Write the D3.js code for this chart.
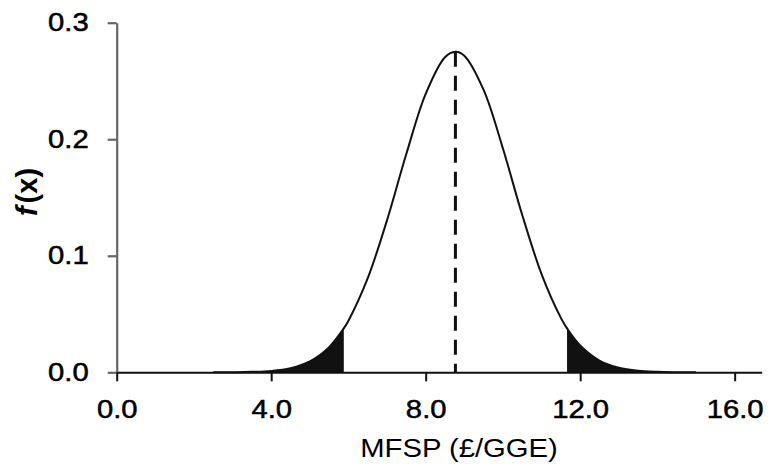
<!DOCTYPE html>
<html>
<head>
<meta charset="utf-8">
<script src="https://cdn.jsdelivr.net/npm/d3@7"></script>
<style>
  body { margin: 0; background: #fff; }
  text { font-family: "Liberation Sans", Arial, Helvetica, sans-serif; fill: #000; }
</style>
</head>
<body>
<div id="viz"></div>
<script>
// values (MFSP in £/GGE, density)
let xs = [2.5, 3.0, 3.5, 4.0, 4.5, 5.0, 5.5, 5.88, 6.0, 6.5, 7.0, 7.5, 8.0, 8.5, 8.77,
          9.0, 9.5, 10.0, 10.5, 11.0, 11.5, 11.66, 12.0, 12.5, 13.0, 13.5, 14.0, 14.5, 15.0];
let fx = [0.0000, 0.0001, 0.0004, 0.0012, 0.0036, 0.0094, 0.0216, 0.0377, 0.0443, 0.0808,
          0.1306, 0.1875, 0.2389, 0.2704, 0.2751, 0.2717, 0.2423, 0.1920, 0.1350, 0.0843,
          0.0467, 0.0377, 0.0230, 0.0101, 0.0039, 0.0013, 0.0004, 0.0001, 0.0000];

let mean = 8.77;
let lowCut = 5.88;
let highCut = 11.66;

let xTicks = [0, 4, 8, 12, 16];
let yTicks = [0, 0.1, 0.2, 0.3];

let data = xs.map((x, i) => ({x: x, y: fx[i]}));

let dimensions = {
    width: 773,
    height: 473,
    margins: {top: 22.7, right: 11.3, bottom: 100.7, left: 116.7}
};
dimensions.boundedWidth = dimensions.width - dimensions.margins.left - dimensions.margins.right;
dimensions.boundedHeight = dimensions.height - dimensions.margins.top - dimensions.margins.bottom;

// the original figure is a little stretched sideways, so the text is too
let stretch = 1.17;

const viz = d3.select('#viz').append('svg')
    .attr('width', dimensions.width)
    .attr('height', dimensions.height);

const bounds = viz.append('g')
    .attr('transform', `translate(${dimensions.margins.left},${dimensions.margins.top})`);

const xScale = d3.scaleLinear()
    .domain([0, 16.7])
    .range([0, dimensions.boundedWidth]);

const yScale = d3.scaleLinear()
    .domain([0, 0.3])
    .range([dimensions.boundedHeight, 0]);

// shaded tails
const area = d3.area()
    .x(d => xScale(d.x))
    .y0(yScale(0))
    .y1(d => yScale(d.y))
    .curve(d3.curveCatmullRom);

bounds.append('path')
    .datum(data.filter(d => d.x <= lowCut))
    .attr('d', area)
    .attr('fill', '#111');

bounds.append('path')
    .datum(data.filter(d => d.x >= highCut))
    .attr('d', area)
    .attr('fill', '#111');

// density curve
const line = d3.line()
    .x(d => xScale(d.x))
    .y(d => yScale(d.y))
    .curve(d3.curveCatmullRom);

bounds.append('path')
    .datum(data)
    .attr('d', line)
    .attr('fill', 'none')
    .attr('stroke', '#111')
    .attr('stroke-width', 2);

// dashed line at the mean
let peak = data.find(d => d.x === mean);
bounds.append('line')
    .attr('x1', xScale(mean))
    .attr('x2', xScale(mean))
    .attr('y1', yScale(peak.y))
    .attr('y2', yScale(0))
    .attr('stroke', '#111')
    .attr('stroke-width', 3)
    .attr('stroke-dasharray', '15,9');

// axes
const yAxis = bounds.append('g')
    .call(d3.axisLeft(yScale)
        .tickValues(yTicks)
        .tickFormat(d3.format('.1f'))
        .tickSize(9)
        .tickSizeOuter(0)
        .tickPadding(19));

yAxis.select('.domain').attr('stroke', '#666').attr('stroke-width', 2.2);
yAxis.selectAll('.tick line').attr('stroke', '#666').attr('stroke-width', 2.2);
yAxis.selectAll('.tick text')
    .attr('font-size', 25)
    .attr('stroke', '#000')
    .attr('stroke-width', 0.5)
    .attr('x', -28 / stretch)
    .attr('transform', `scale(${stretch},1)`);

const xAxis = bounds.append('g')
    .attr('transform', `translate(0,${dimensions.boundedHeight})`)
    .call(d3.axisBottom(xScale)
        .tickValues(xTicks)
        .tickFormat(d3.format('.1f'))
        .tickSize(9)
        .tickSizeOuter(0)
        .tickPadding(19));

xAxis.select('.domain').attr('stroke', '#111').attr('stroke-width', 2);
xAxis.selectAll('.tick line').attr('stroke', '#111').attr('stroke-width', 2);
xAxis.selectAll('.tick text')
    .attr('font-size', 25)
    .attr('stroke', '#000')
    .attr('stroke-width', 0.5)
    .attr('transform', `scale(${stretch},1)`);

// axis titles
viz.append('text')
    .attr('transform', `translate(459,457) scale(${stretch},1)`)
    .attr('text-anchor', 'middle')
    .attr('font-size', 25)
    .text('MFSP (£/GGE)');

const yTitle = viz.append('text')
    .attr('transform', 'translate(37,192) rotate(-90)')
    .attr('text-anchor', 'middle')
    .attr('font-size', 29)
    .attr('font-weight', 'bold');
yTitle.append('tspan').attr('font-style', 'italic').text('f');
yTitle.append('tspan').attr('dx', 3).text('(x)');
</script>
</body>
</html>
